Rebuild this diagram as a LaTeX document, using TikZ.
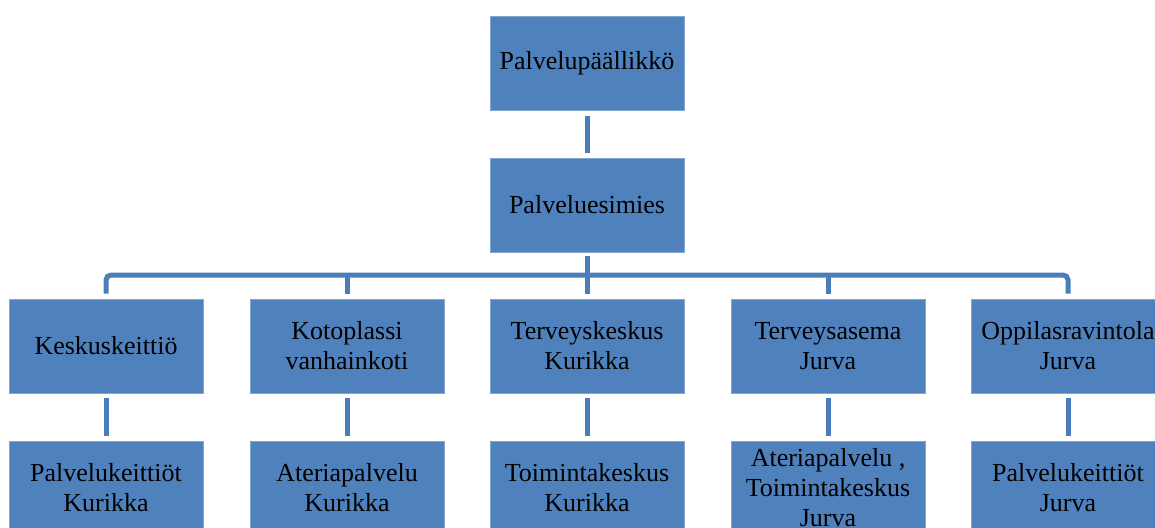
\documentclass[tikz,border=0pt]{standalone}
\usepackage{fontspec}
\setmainfont{Liberation Serif}
\definecolor{boxblue}{HTML}{4F81BD}
\definecolor{lineblue}{HTML}{4A7EBB}
\begin{document}
\begin{tikzpicture}[x=1pt,y=-1pt,
  orgbox/.style={fill=boxblue, draw=boxblue!70!white, line width=0.6pt, minimum width=194pt, minimum height=94pt,
    inner sep=0pt, align=center, font=\fontsize{26}{30}\selectfont, text=black},
  conn/.style={draw=lineblue, line width=5pt}]
\useasboundingbox (0,0) rectangle (1155,527);
\begin{scope}
\clip (0,0) rectangle (1155,527);
\node[orgbox] (top) at (587,63.5) {Palvelupäällikkö};
\node[orgbox] (sup) at (587,205) {Palveluesimies};
\node[orgbox] (b1) at (106,346) {Keskuskeittiö};
\node[orgbox] (b2) at (347,346) {Kotoplassi\\vanhainkoti};
\node[orgbox] (b3) at (587,346) {Terveyskeskus\\Kurikka};
\node[orgbox] (b4) at (828,346) {Terveysasema\\Jurva};
\node[orgbox] (b5) at (1068,346) {Oppilasravintola\\Jurva};
\node[orgbox] (c1) at (106,488) {Palvelukeittiöt\\Kurikka};
\node[orgbox] (c2) at (347,488) {Ateriapalvelu\\Kurikka};
\node[orgbox] (c3) at (587,488) {Toimintakeskus\\Kurikka};
\node[orgbox] (c4) at (828,488) {Ateriapalvelu ,\\Toimintakeskus\\Jurva};
\node[orgbox] (c5) at (1068,488) {Palvelukeittiöt\\Jurva};
\coordinate (bus) at (587,275);
\draw[conn, shorten <=5pt, shorten >=5pt] (top) -- (sup);
\draw[conn] ([yshift=-4pt]sup.south) -- (bus);
\draw[conn, rounded corners=5pt] ([yshift=5pt]b1.north) |- (bus) -| ([yshift=5pt]b5.north);
\draw[conn] ([yshift=5pt]b2.north) -- (b2.north |- bus);
\draw[conn] ([yshift=5pt]b3.north) -- (b3.north |- bus);
\draw[conn] ([yshift=5pt]b4.north) -- (b4.north |- bus);
\foreach \i in {1,...,5}{
  \draw[conn, shorten <=5pt, shorten >=5pt] (b\i) -- (c\i);
}
\end{scope}
\end{tikzpicture}
\end{document}
